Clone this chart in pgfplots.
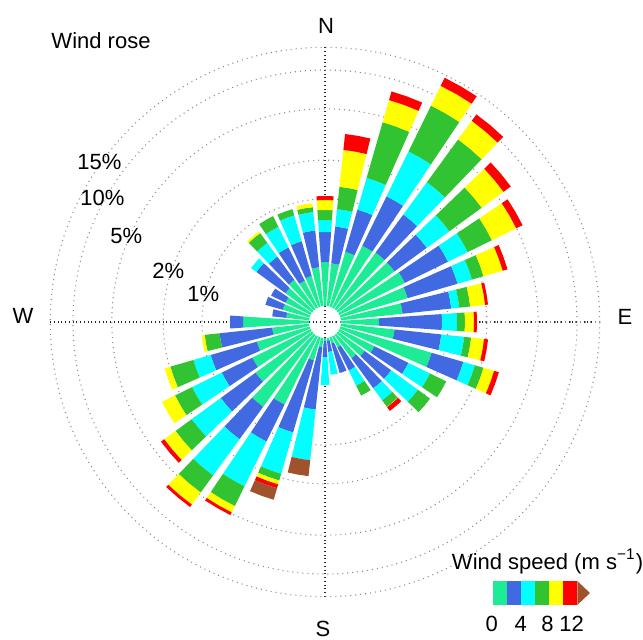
\documentclass[border=0pt]{standalone}
\usepackage{pgfplots}
\pgfplotsset{compat=1.18}
\usepackage{pgfplotstable}
\usepgfplotslibrary{polar}
\usepackage{fontspec}
\setmainfont{Liberation Sans}

\definecolor{wc1}{RGB}{30,235,150}
\definecolor{wc2}{RGB}{65,105,225}
\definecolor{wc3}{RGB}{0,255,255}
\definecolor{wc4}{RGB}{50,195,50}
\definecolor{wc5}{RGB}{255,255,0}
\definecolor{wc6}{RGB}{255,0,0}
\definecolor{wc7}{RGB}{160,82,45}

% cumulative frequency (%) up to each wind-speed bin:
% c1: 0-2, c2: 2-4, c3: 4-6, c4: 6-8, c5: 8-10, c6: 10-12, c7: >12 m/s
\pgfplotstableread{
dir c1 c2 c3 c4 c5 c6 c7
0 0.325 0.555 0.687 0.822 0.982 1.055 1.055
10 0.319 0.618 0.844 1.261 2.443 3.251 3.251
20 0.410 0.898 1.619 4.560 6.874 8.072 8.072
30 0.507 1.354 3.305 8.218 12.17 14.29 14.29
40 0.517 1.196 2.443 6.285 9.480 10.93 10.93
50 0.517 1.055 1.739 3.551 5.750 6.752 6.752
60 0.545 1.284 1.901 3.076 4.985 5.649 5.649
70 0.517 1.307 1.709 2.117 3.024 3.305 3.305
80 0.448 1.074 1.239 1.508 1.970 2.078 2.078
90 0.292 0.898 1.175 1.354 1.591 1.679 1.679
100 0.388 0.898 1.354 1.535 1.935 2.078 2.078
110 0.807 1.455 1.803 2.117 2.576 2.816 2.816
120 0.297 0.585 0.898 1.239 1.239 1.239 1.239
130 0.267 0.481 0.867 1.133 1.133 1.133 1.133
140 0.248 0.481 0.629 0.725 0.730 0.793 0.793
150 0.184 0.292 0.395 0.481 0.481 0.481 0.481
160 0.165 0.287 0.287 0.287 0.287 0.287 0.287
170 0.154 0.190 0.287 0.287 0.287 0.287 0.287
180 0.154 0.208 0.343 0.343 0.343 0.343 0.343
190 0.174 0.536 1.330 1.330 1.330 1.330 1.770
200 0.227 0.867 1.868 2.117 2.273 2.443 3.024
210 0.575 1.196 2.918 4.322 4.898 5.166 5.166
220 0.725 1.482 3.305 4.812 6.285 6.633 6.633
230 0.517 1.113 2.117 3.024 3.882 4.170 4.170
240 0.472 0.867 1.563 2.193 2.841 2.841 2.841
250 0.395 0.931 1.284 1.970 2.193 2.193 2.193
260 0.287 0.738 0.738 0.965 1.018 1.018 1.018
270 0.481 0.607 0.607 0.607 0.607 0.607 0.607
280 0.223 0.287 0.287 0.287 0.287 0.287 0.287
290 0.244 0.337 0.337 0.337 0.337 0.337 0.337
300 0.244 0.325 0.325 0.325 0.325 0.325 0.325
310 0.267 0.507 0.570 0.570 0.570 0.570 0.570
320 0.282 0.472 0.640 0.793 0.822 0.822 0.822
330 0.253 0.490 0.738 0.914 0.914 0.914 0.914
340 0.262 0.499 0.807 0.906 0.906 0.906 0.906
350 0.297 0.575 0.800 0.875 0.938 0.938 0.938
}\windtable

\newcommand\hw{3.9}
% radius (in px of the reference) = 123 + 129*log10(percent)
\newcommand\segment[1]{%
  \pgfplotstablegetelem{\i}{c#1}\of\windtable
  \pgfmathsetmacro\rcur{123+129*log10(\pgfplotsretval)}%
  \pgfmathsetmacro\dr{\rcur-\rprev}%
  \ifdim\dr pt>0.2pt
    \edef\tmp{\noexpand\addplot[fill=wc#1,draw=none,forget plot] coordinates {(\aA,\rprev) (\aM,\rprev) (\aB,\rprev) (\aB,\rcur) (\aM,\rcur) (\aA,\rcur)};}%
    \tmp
    \let\rprev\rcur
  \fi
}

\begin{document}
\begin{tikzpicture}[every node/.style={font=\fontsize{8.8}{10.5}\selectfont, inner sep=0pt}]
\useasboundingbox (-130pt,128.8pt) rectangle (127.2pt,-126.8pt);
\begin{polaraxis}[
  at={(0,0)}, anchor=center,
  scale only axis, width=219.76pt, height=219.76pt,
  ymin=0, ymax=274.7,
  xtick={0,90,180,270}, xticklabels={},
  ytick={123,161.83,213.17,252}, yticklabels={},
  major tick length=0pt,
  grid=major,
  x grid style={black!85, line width=0.45pt, dash pattern=on 0.4pt off 1.1pt},
  y grid style={black!45, line width=0.45pt, dash pattern=on 0.4pt off 1.6pt},
  axis line style={black!45, line width=0.45pt, dash pattern=on 0.4pt off 1.6pt},
  clip=false,
]
\foreach \i in {0,...,35}{%
  \pgfplotstablegetelem{\i}{dir}\of\windtable
  \pgfmathsetmacro\aM{90-\pgfplotsretval}%
  \pgfmathsetmacro\aA{\aM-\hw}%
  \pgfmathsetmacro\aB{\aM+\hw}%
  \def\rprev{16}%
  \segment{1}\segment{2}\segment{3}\segment{4}\segment{5}\segment{6}\segment{7}%
}
\end{polaraxis}
\begin{scope}[x=0.4pt,y=-0.4pt,shift={(-130pt,128.8pt)}]
  \node[anchor=base west] at (51,48) {Wind rose};
  \node[anchor=base] at (326,33) {N};
  \node[anchor=base] at (23,323) {W};
  \node[anchor=base] at (625,324) {E};
  \node[anchor=base] at (323,636) {S};
  \node[anchor=base west] at (77,169) {15\%};
  \node[anchor=base west] at (80,205) {10\%};
  \node[anchor=base west] at (110,243) {5\%};
  \node[anchor=base west] at (152,278) {2\%};
  \node[anchor=base west] at (187,301.5) {1\%};
  \node[anchor=base west] at (451.5,569) {Wind speed (m s\textsuperscript{−1})};
  \fill[wc1] (493.3,581) rectangle (507.3,605);
  \fill[wc2] (507.3,581) rectangle (521.3,605);
  \fill[wc3] (521.3,581) rectangle (535.3,605);
  \fill[wc4] (535.3,581) rectangle (549.3,605);
  \fill[wc5] (549.3,581) rectangle (563.3,605);
  \fill[wc6] (563.3,581) rectangle (577.3,605);
  \fill[wc7] (577.3,581) -- (590,593) -- (577.3,605) -- cycle;
  \node[anchor=base] at (491.7,631) {0};
  \node[anchor=base] at (520.8,631) {4};
  \node[anchor=base] at (547.5,631) {8};
  \node[anchor=base] at (571.7,631) {12};
\end{scope}
\end{tikzpicture}
\end{document}
